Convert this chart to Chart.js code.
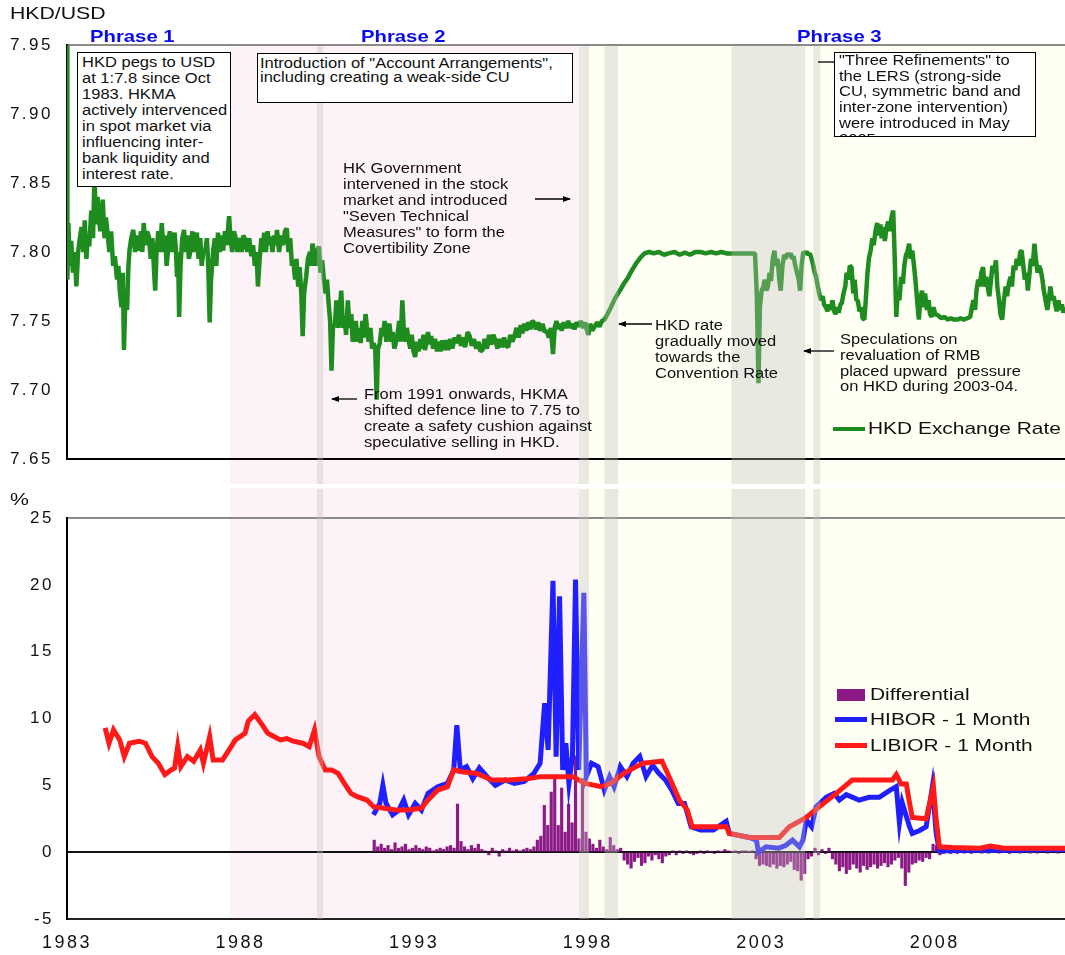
<!DOCTYPE html>
<html>
<head>
<meta charset="utf-8">
<script src="https://cdn.jsdelivr.net/npm/chart.js@4.4.1/dist/chart.umd.min.js"></script>
<style>
  html, body { margin: 0; padding: 0; background: #fff; overflow: hidden; }
  #wrap { position: relative; width: 1065px; height: 955px; }
  canvas { position: absolute; left: 0; }
  .t { position: absolute; font-family: "Liberation Sans", Arial, sans-serif; white-space: nowrap;
       transform-origin: 0 0; color: #111; }
  .note { font-size: 14px; line-height: 16px; transform: scaleX(1.18); }
  .big { font-size: 17px; line-height: 20px; transform: scaleX(1.23); }
  .phase { font-size: 16.5px; line-height: 20px; font-weight: bold; color: #0a0af0; transform: scaleX(1.23); }
  .box { position: absolute; background: #fff; border: 1px solid #000; overflow: hidden; box-sizing: border-box; }
  .box .t { position: static; display: inline-block; }
  .swatch { position: absolute; }
  svg { position: absolute; left: 0; top: 0; }
</style>
</head>
<body>
<div id="wrap">
  <canvas id="fx" width="1065" height="486" style="top:0"></canvas>
  <canvas id="ir" width="1065" height="469" style="top:486px"></canvas>

  <div class="t big" style="left:10px;top:4px;transform:scaleX(1.25)">HKD/USD</div>
  <div class="t big" style="left:10px;top:490px;transform:scaleX(1.25)">%</div>

  <div class="t phase" style="left:90px;top:26px">Phrase 1</div>
  <div class="t phase" style="left:361px;top:26px">Phrase 2</div>
  <div class="t phase" style="left:797px;top:26px">Phrase 3</div>

  <div class="box" style="left:77px;top:52px;width:154px;height:135px;padding:1px 0 0 4px">
    <div class="t note">HKD pegs to USD<br>at 1:7.8 since Oct<br>1983. HKMA<br>actively intervenced<br>in spot market via<br>influencing inter-<br>bank liquidity and<br>interest rate.</div>
  </div>
  <div class="box" style="left:257px;top:53px;width:316px;height:50px;padding:2px 0 0 2px">
    <div class="t note" style="line-height:14px">Introduction of "Account Arrangements",<br>including creating a weak-side CU</div>
  </div>
  <div class="box" style="left:834px;top:52px;width:202px;height:85px;padding:0 0 0 4px">
    <div class="t note" style="line-height:15.7px">"Three Refinements" to<br>the LERS (strong-side<br>CU, symmetric band and<br>inter-zone intervention)<br>were introduced in May<br>2005</div>
  </div>

  <div class="t note" style="left:343px;top:161px;line-height:15.9px">HK Government<br>intervened in the stock<br>market and introduced<br>"Seven Technical<br>Measures" to form the<br>Covertibility Zone</div>
  <div class="t note" style="left:364px;top:386px">From 1991 onwards, HKMA<br>shifted defence line to 7.75 to<br>create a safety cushion against<br>speculative selling in HKD.</div>
  <div class="t note" style="left:655px;top:317px">HKD rate<br>gradually moved<br>towards the<br>Convention Rate</div>
  <div class="t note" style="left:840px;top:332px;line-height:15.8px">Speculations on<br>revaluation of RMB<br>placed upward&nbsp; pressure<br>on HKD during 2003-04.</div>

  <svg width="1065" height="955">
    <defs>
      <marker id="ah" markerWidth="8" markerHeight="6" refX="7" refY="3" orient="auto" markerUnits="userSpaceOnUse">
        <path d="M0,0 L8,3 L0,6 z" fill="#000"/>
      </marker>
    </defs>
    <g stroke="#000" stroke-width="1.3">
      <line x1="535" y1="199" x2="570" y2="199" marker-end="url(#ah)"/>
      <line x1="357" y1="399" x2="332" y2="399" marker-end="url(#ah)"/>
      <line x1="652" y1="324" x2="619" y2="324" marker-end="url(#ah)"/>
      <line x1="834" y1="351" x2="804" y2="351" marker-end="url(#ah)"/>
      <line x1="818" y1="62" x2="834" y2="62"/>
    </g>
  </svg>

  <div class="swatch" style="left:833px;top:427px;width:32px;height:4px;background:#1e8c1e"></div>
  <div class="t big" style="left:868px;top:419px">HKD Exchange Rate</div>

  <div class="swatch" style="left:837px;top:689px;width:28px;height:12px;background:#8b1a86"></div>
  <div class="t big" style="left:870px;top:685px">Differential</div>
  <div class="swatch" style="left:835px;top:717px;width:32px;height:5px;background:#1f1fff"></div>
  <div class="t big" style="left:870px;top:710px">HIBOR - 1 Month</div>
  <div class="swatch" style="left:835px;top:743px;width:32px;height:5px;background:#ff1a1a"></div>
  <div class="t big" style="left:870px;top:736px">LIBIOR - 1 Month</div>
</div>

<script>
// HKD/USD exchange rate, rows of ten
const hkdYears = [
  1983.00, 1983.01, 1983.04, 1983.08, 1983.12, 1983.17, 1983.22, 1983.27, 1983.32, 1983.37,
  1983.42, 1983.47, 1983.51, 1983.56, 1983.60, 1983.64, 1983.70, 1983.75, 1983.79, 1983.84,
  1983.88, 1983.91, 1983.96, 1984.03, 1984.08, 1984.12, 1984.16, 1984.22, 1984.27, 1984.33,
  1984.38, 1984.44, 1984.48, 1984.52, 1984.57, 1984.61, 1984.64, 1984.68, 1984.73, 1984.77,
  1984.80, 1984.85, 1984.91, 1984.96, 1985.02, 1985.08, 1985.13, 1985.17, 1985.21, 1985.26,
  1985.31, 1985.36, 1985.41, 1985.46, 1985.50, 1985.54, 1985.58, 1985.63, 1985.68, 1985.73,
  1985.78, 1985.83, 1985.87, 1985.91, 1985.96, 1986.01, 1986.06, 1986.10, 1986.14, 1986.17,
  1986.20, 1986.23, 1986.27, 1986.32, 1986.37, 1986.42, 1986.47, 1986.51, 1986.56, 1986.61,
  1986.65, 1986.70, 1986.74, 1986.79, 1986.84, 1986.88, 1986.93, 1986.98, 1987.03, 1987.07,
  1987.11, 1987.15, 1987.21, 1987.26, 1987.30, 1987.35, 1987.40, 1987.45, 1987.50, 1987.55,
  1987.60, 1987.67, 1987.71, 1987.76, 1987.81, 1987.85, 1987.91, 1987.97, 1988.03, 1988.08,
  1988.13, 1988.19, 1988.25, 1988.31, 1988.36, 1988.41, 1988.46, 1988.50, 1988.55, 1988.60,
  1988.64, 1988.68, 1988.73, 1988.78, 1988.82, 1988.87, 1988.92, 1988.96, 1989.01, 1989.05,
  1989.11, 1989.17, 1989.22, 1989.28, 1989.33, 1989.38, 1989.43, 1989.48, 1989.52, 1989.57,
  1989.61, 1989.66, 1989.70, 1989.75, 1989.79, 1989.83, 1989.89, 1989.94, 1990.00, 1990.04,
  1990.07, 1990.12, 1990.17, 1990.21, 1990.26, 1990.30, 1990.35, 1990.40, 1990.45, 1990.49,
  1990.53, 1990.58, 1990.62, 1990.66, 1990.72, 1990.76, 1990.81, 1990.86, 1990.90, 1990.95,
  1990.99, 1991.04, 1991.09, 1991.14, 1991.19, 1991.23, 1991.27, 1991.32, 1991.37, 1991.41,
  1991.46, 1991.51, 1991.55, 1991.60, 1991.64, 1991.69, 1991.74, 1991.79, 1991.83, 1991.88,
  1991.92, 1991.96, 1992.01, 1992.06, 1992.10, 1992.15, 1992.20, 1992.25, 1992.29, 1992.34,
  1992.38, 1992.43, 1992.47, 1992.52, 1992.57, 1992.61, 1992.66, 1992.70, 1992.75, 1992.79,
  1992.84, 1992.89, 1992.93, 1992.98, 1993.03, 1993.08, 1993.13, 1993.18, 1993.22, 1993.27,
  1993.31, 1993.36, 1993.40, 1993.45, 1993.49, 1993.55, 1993.60, 1993.66, 1993.71, 1993.76,
  1993.81, 1993.86, 1993.92, 1993.98, 1994.04, 1994.10, 1994.17, 1994.23, 1994.29, 1994.35,
  1994.41, 1994.47, 1994.54, 1994.60, 1994.66, 1994.72, 1994.79, 1994.85, 1994.91, 1994.97,
  1995.03, 1995.10, 1995.16, 1995.22, 1995.28, 1995.34, 1995.40, 1995.46, 1995.53, 1995.59,
  1995.65, 1995.71, 1995.77, 1995.83, 1995.89, 1995.95, 1996.01, 1996.07, 1996.12, 1996.17,
  1996.23, 1996.29, 1996.35, 1996.40, 1996.45, 1996.51, 1996.57, 1996.63, 1996.70, 1996.76,
  1996.82, 1996.88, 1996.94, 1997.00, 1997.05, 1997.10, 1997.15, 1997.19, 1997.25, 1997.31,
  1997.37, 1997.44, 1997.50, 1997.56, 1997.62, 1997.68, 1997.74, 1997.80, 1997.87, 1997.93,
  1997.97, 1998.02, 1998.07, 1998.13, 1998.20, 1998.27, 1998.34, 1998.41, 1998.48, 1998.57,
  1998.67, 1998.78, 1998.90, 1999.04, 1999.15, 1999.28, 1999.40, 1999.52, 1999.64, 1999.77,
  1999.90, 2000.05, 2000.20, 2000.33, 2000.50, 2000.65, 2000.80, 2000.95, 2001.10, 2001.25,
  2001.40, 2001.55, 2001.70, 2001.85, 2002.00, 2002.18, 2002.35, 2002.50, 2002.65, 2002.82,
  2002.87, 2002.92, 2002.96, 2003.01, 2003.06, 2003.10, 2003.15, 2003.19, 2003.24, 2003.28,
  2003.33, 2003.38, 2003.42, 2003.47, 2003.52, 2003.56, 2003.61, 2003.66, 2003.70, 2003.75,
  2003.80, 2003.85, 2003.89, 2003.93, 2003.98, 2004.03, 2004.08, 2004.12, 2004.16, 2004.21,
  2004.26, 2004.31, 2004.36, 2004.40, 2004.45, 2004.50, 2004.54, 2004.58, 2004.63, 2004.67,
  2004.72, 2004.77, 2004.81, 2004.86, 2004.91, 2004.95, 2005.00, 2005.05, 2005.10, 2005.14,
  2005.19, 2005.23, 2005.28, 2005.32, 2005.37, 2005.42, 2005.46, 2005.51, 2005.55, 2005.60,
  2005.65, 2005.69, 2005.74, 2005.78, 2005.83, 2005.88, 2005.92, 2005.97, 2006.01, 2006.06,
  2006.10, 2006.15, 2006.20, 2006.24, 2006.29, 2006.34, 2006.38, 2006.43, 2006.47, 2006.52,
  2006.56, 2006.61, 2006.66, 2006.70, 2006.75, 2006.80, 2006.84, 2006.89, 2006.93, 2006.98,
  2007.03, 2007.08, 2007.12, 2007.17, 2007.21, 2007.26, 2007.30, 2007.35, 2007.40, 2007.44,
  2007.49, 2007.54, 2007.58, 2007.63, 2007.68, 2007.72, 2007.77, 2007.82, 2007.86, 2007.91,
  2007.96, 2008.01, 2008.10, 2008.19, 2008.28, 2008.37, 2008.46, 2008.55, 2008.65, 2008.74,
  2008.83, 2008.93, 2009.02, 2009.07, 2009.11, 2009.16, 2009.20, 2009.25, 2009.29, 2009.34,
  2009.39, 2009.43, 2009.48, 2009.52, 2009.57, 2009.62, 2009.66, 2009.71, 2009.76, 2009.80,
  2009.85, 2009.89, 2009.94, 2009.99, 2010.04, 2010.08, 2010.13, 2010.18, 2010.22, 2010.27,
  2010.32, 2010.36, 2010.41, 2010.46, 2010.50, 2010.55, 2010.59, 2010.64, 2010.68, 2010.73,
  2010.77, 2010.82, 2010.87, 2010.91, 2010.96, 2011.00, 2011.05, 2011.10, 2011.14, 2011.19,
  2011.24, 2011.28, 2011.33, 2011.38, 2011.42, 2011.47, 2011.51, 2011.56, 2011.61, 2011.66,
  2011.70, 2011.75];
const hkdRates = [
  7.95, 7.78, 7.821, 7.79, 7.808, 7.785, 7.80, 7.775, 7.80, 7.81,
  7.818, 7.80, 7.823, 7.795, 7.812, 7.804, 7.83, 7.81, 7.855, 7.82,
  7.84, 7.826, 7.815, 7.838, 7.81, 7.825, 7.816, 7.80, 7.815, 7.79,
  7.797, 7.78, 7.79, 7.772, 7.76, 7.785, 7.729, 7.765, 7.758, 7.79,
  7.801, 7.81, 7.816, 7.80, 7.812, 7.801, 7.815, 7.80, 7.821, 7.805,
  7.815, 7.811, 7.795, 7.81, 7.79, 7.772, 7.80, 7.815, 7.80, 7.821,
  7.80, 7.812, 7.79, 7.801, 7.815, 7.80, 7.81, 7.814, 7.80, 7.782,
  7.80, 7.753, 7.79, 7.81, 7.816, 7.80, 7.812, 7.795, 7.801, 7.815,
  7.80, 7.81, 7.814, 7.795, 7.81, 7.79, 7.801, 7.80, 7.81, 7.79,
  7.749, 7.78, 7.801, 7.81, 7.79, 7.814, 7.80, 7.812, 7.801, 7.815,
  7.805, 7.826, 7.81, 7.80, 7.815, 7.811, 7.80, 7.81, 7.80, 7.812,
  7.809, 7.80, 7.81, 7.797, 7.805, 7.79, 7.80, 7.775, 7.795, 7.81,
  7.80, 7.814, 7.80, 7.815, 7.805, 7.811, 7.80, 7.812, 7.805, 7.816,
  7.80, 7.812, 7.805, 7.815, 7.817, 7.80, 7.81, 7.79, 7.794, 7.78,
  7.795, 7.775, 7.789, 7.77, 7.739, 7.77, 7.782, 7.795, 7.80, 7.79,
  7.806, 7.80, 7.79, 7.80, 7.804, 7.785, 7.794, 7.78, 7.77, 7.78,
  7.765, 7.75, 7.714, 7.745, 7.748, 7.765, 7.745, 7.76, 7.772, 7.745,
  7.753, 7.74, 7.765, 7.745, 7.755, 7.735, 7.739, 7.75, 7.735, 7.745,
  7.734, 7.75, 7.738, 7.755, 7.746, 7.735, 7.745, 7.73, 7.734, 7.73,
  7.693, 7.73, 7.734, 7.745, 7.739, 7.75, 7.735, 7.745, 7.748, 7.735,
  7.742, 7.73, 7.734, 7.74, 7.75, 7.735, 7.765, 7.745, 7.735, 7.745,
  7.736, 7.73, 7.74, 7.728, 7.724, 7.735, 7.728, 7.737, 7.73, 7.74,
  7.729, 7.735, 7.742, 7.733, 7.739, 7.73, 7.737, 7.728, 7.735, 7.728,
  7.736, 7.729, 7.736, 7.729, 7.737, 7.73, 7.738, 7.734, 7.74, 7.732,
  7.738, 7.731, 7.742, 7.739, 7.732, 7.737, 7.73, 7.735, 7.728, 7.729,
  7.737, 7.73, 7.74, 7.733, 7.74, 7.736, 7.73, 7.737, 7.731, 7.738,
  7.732, 7.731, 7.74, 7.735, 7.739, 7.745, 7.738, 7.747, 7.741, 7.748,
  7.743, 7.749, 7.744, 7.75, 7.749, 7.744, 7.749, 7.743, 7.748, 7.742,
  7.743, 7.738, 7.745, 7.726, 7.745, 7.75, 7.744, 7.748, 7.743, 7.749,
  7.745, 7.75, 7.745, 7.748, 7.744, 7.749, 7.746, 7.75, 7.745, 7.749,
  7.744, 7.740, 7.748, 7.743, 7.746, 7.749, 7.746, 7.750, 7.751, 7.755,
  7.760, 7.766, 7.771, 7.777, 7.781, 7.787, 7.792, 7.796, 7.799, 7.800,
  7.799, 7.800, 7.798, 7.799, 7.800, 7.798, 7.7995, 7.798, 7.800, 7.800,
  7.799, 7.800, 7.799, 7.800, 7.799, 7.799, 7.799, 7.799, 7.799, 7.799,
  7.77, 7.705, 7.76, 7.772, 7.775, 7.78, 7.772, 7.775, 7.785, 7.779,
  7.795, 7.801, 7.79, 7.795, 7.78, 7.772, 7.79, 7.798, 7.795, 7.799,
  7.797, 7.799, 7.795, 7.797, 7.79, 7.785, 7.78, 7.772, 7.79, 7.800,
  7.799, 7.800, 7.798, 7.799, 7.795, 7.79, 7.785, 7.782, 7.775, 7.77,
  7.765, 7.768, 7.762, 7.760, 7.757, 7.762, 7.758, 7.765, 7.757, 7.755,
  7.76, 7.756, 7.762, 7.763, 7.77, 7.775, 7.785, 7.78, 7.79, 7.789,
  7.77, 7.78, 7.765, 7.765, 7.757, 7.76, 7.752, 7.751, 7.765, 7.785,
  7.795, 7.801, 7.81, 7.805, 7.815, 7.821, 7.812, 7.82, 7.81, 7.818,
  7.808, 7.818, 7.822, 7.815, 7.825, 7.830, 7.80, 7.753, 7.77, 7.765,
  7.782, 7.777, 7.79, 7.798, 7.80, 7.806, 7.795, 7.801, 7.79, 7.78,
  7.765, 7.751, 7.765, 7.772, 7.76, 7.770, 7.758, 7.765, 7.755, 7.753,
  7.76, 7.755, 7.754, 7.752, 7.753, 7.751, 7.752, 7.751, 7.751, 7.752,
  7.751, 7.752, 7.753, 7.76, 7.765, 7.758, 7.772, 7.78, 7.775, 7.785,
  7.789, 7.775, 7.782, 7.775, 7.768, 7.78, 7.79, 7.785, 7.794, 7.775,
  7.765, 7.755, 7.751, 7.765, 7.775, 7.768, 7.777, 7.782, 7.775, 7.79,
  7.787, 7.795, 7.79, 7.80, 7.801, 7.79, 7.78, 7.785, 7.772, 7.785,
  7.795, 7.79, 7.806, 7.795, 7.785, 7.79, 7.787, 7.78, 7.772, 7.765,
  7.758, 7.765, 7.775, 7.765, 7.768, 7.762, 7.757, 7.765, 7.758, 7.762,
  7.756, 7.760];

// 1-month LIBOR
const liborYears = [1984.10, 1984.21, 1984.34, 1984.52, 1984.65, 1984.80, 1985.08, 1985.26, 1985.45, 1985.63,
  1985.82, 1986.00, 1986.10, 1986.19, 1986.28, 1986.47, 1986.65, 1986.84, 1986.93, 1987.11,
  1987.21, 1987.48, 1987.67, 1987.85, 1988.13, 1988.22, 1988.41, 1988.59, 1988.78, 1988.96,
  1989.15, 1989.33, 1989.52, 1989.79, 1989.98, 1990.13, 1990.26, 1990.44, 1990.62, 1990.81,
  1990.99, 1991.18, 1991.36, 1991.64, 1991.83, 1992.10, 1992.47, 1992.84, 1993.21, 1993.40,
  1993.68, 1993.96, 1994.14, 1994.42, 1994.78, 1995.25, 1995.71, 1996.26, 1996.63, 1997.09,
  1997.56, 1997.93, 1998.39, 1998.67, 1999.04, 1999.40, 1999.59, 2000.14, 2000.30, 2000.64,
  2000.87, 2001.01, 2001.99, 2002.08, 2002.65, 2003.52, 2003.81, 2004.30, 2004.67, 2005.16,
  2005.62, 2006.78, 2006.89, 2007.03, 2007.18, 2007.27, 2007.35, 2007.75, 2007.96, 2008.04,
  2008.13, 2008.50, 2009.30, 2009.60, 2010.00, 2011.75];
const liborRates = [9.3, 8.15, 9.15, 8.4, 7.15, 8.15, 8.3, 8.15, 7.15, 6.65,
  5.8, 6.15, 6.3, 7.9, 6.4, 7.15, 6.8, 7.65, 6.65, 8.65,
  6.9, 6.9, 7.65, 8.4, 8.9, 9.8, 10.3, 9.65, 8.9, 8.65,
  8.4, 8.5, 8.3, 8.15, 7.9, 9.15, 7.15, 6.15, 6.15, 5.9,
  5.15, 4.4, 4.15, 3.9, 3.4, 3.3, 3.15, 3.15, 3.3, 3.9,
  4.65, 4.9, 6.15, 6.0, 5.9, 5.4, 5.4, 5.5, 5.65, 5.65,
  5.65, 5.15, 4.9, 5.15, 5.9, 6.4, 6.65, 6.8, 5.9, 3.9,
  3.15, 1.9, 1.9, 1.4, 1.1, 1.1, 1.9, 2.6, 3.4, 4.4,
  5.4, 5.4, 5.8, 5.1, 5.1, 3.7, 2.6, 2.5, 4.9, 2.4,
  0.4, 0.35, 0.3, 0.45, 0.3, 0.3];

// 1-month HIBOR
const hiborYears = [1991.83, 1992.01, 1992.10, 1992.19, 1992.38, 1992.56, 1992.70, 1992.84, 1993.03, 1993.21,
  1993.40, 1993.68, 1993.96, 1994.14, 1994.23, 1994.33, 1994.51, 1994.69, 1994.88, 1995.15,
  1995.34, 1995.62, 1995.89, 1996.17, 1996.45, 1996.63, 1996.76, 1996.86, 1997.00, 1997.09,
  1997.19, 1997.28, 1997.37, 1997.46, 1997.56, 1997.65, 1997.74, 1997.89, 1997.96, 1998.11,
  1998.30, 1998.48, 1998.63, 1998.76, 1998.94, 1999.13, 1999.31, 1999.50, 1999.68, 1999.87,
  2000.05, 2000.24, 2000.42, 2000.61, 2000.79, 2000.98, 2001.25, 2001.62, 2001.99, 2002.08,
  2002.65, 2002.86, 2002.92, 2003.14, 2003.50, 2003.70, 2003.90, 2004.10, 2004.20, 2004.30,
  2004.45, 2004.58, 2004.87, 2005.10, 2005.25, 2005.45, 2005.82, 2006.10, 2006.40, 2006.69,
  2006.89, 2006.98, 2007.06, 2007.27, 2007.35, 2007.55, 2007.75, 2007.93, 2008.04, 2008.13,
  2009.00, 2010.00, 2011.75];
const hiborRates = [2.8, 3.65, 5.0, 3.65, 2.8, 3.15, 3.9, 2.8, 3.65, 3.15,
  4.4, 4.9, 5.15, 6.15, 9.5, 6.15, 6.4, 5.5, 6.3, 5.5,
  5.0, 5.4, 5.15, 5.3, 5.9, 6.65, 11.15, 7.65, 20.3, 7.15,
  19.15, 6.15, 8.15, 5.15, 7.15, 20.4, 6.15, 19.4, 5.65, 6.65,
  6.4, 4.65, 5.65, 4.9, 6.4, 5.65, 6.65, 7.15, 5.65, 6.5,
  5.9, 5.4, 4.65, 3.65, 3.65, 1.9, 1.65, 1.65, 2.3, 1.4,
  1.1, 0.9, 0.0, 0.4, 0.3, 0.5, 0.9, 0.4, 0.9, 2.4,
  1.9, 3.4, 4.1, 4.4, 3.9, 4.3, 3.9, 4.1, 4.1, 4.6,
  4.9, 2.2, 3.7, 1.9, 1.4, 1.6, 1.9, 4.9, 1.4, 0.1,
  0.15, 0.15, 0.2];

// HIBOR - LIBOR differential, one reading every 0.1 year from 1991.85
const diffStart = 1991.85;
const diffValues = [
  0.9, 0.4, 0.6, 0.3, 0.5, 0.2, 0.7, 0.3, 0.4, 0.6,
  0.2, 0.3, 0.5, 0.3, 0.2, 0.4, 0.3, 0.1, 0.2, 0.3,
  0.2, 0.4, 0.5, 0.3, 3.6, 0.8, 0.4, 0.2, 0.5, 0.3,
  0.6, 0.2, 0.1, -0.2, 0.3, 0.1, -0.3, 0.2, 0.1, 0.3,
  0.1, 0.2, 0.1, 0.2, 0.3, 0.2, 0.4, 0.9, 1.2, 3.5,
  2.0, 4.5, 5.6, 2.0, 4.8, 1.5, 3.6, 2.2, 7.2, 1.0,
  5.5, 1.5, 1.0, 0.6, 0.3, 0.9, 0.4, 0.2, 1.1, 0.5,
  0.2, 0.3, -0.6, -0.9, -1.2, -0.7, -0.4, -1.0, -0.8, -0.3,
  -0.6, -0.2, -0.5, -0.8, -0.3, -0.2, 0.1, -0.2, 0.1, -0.1,
  0.1, -0.1, -0.2, -0.1, 0.1, -0.1, 0.1, 0.05, -0.1, 0.1,
  0.05, 0.2, 0.1, 0.05, 0.1, -0.1, 0.1, 0.1, 0.05, 0.1,
  -0.5, -1.0, -0.9, -1.0, -1.1, -0.9, -1.2, -1.0, -1.1, -0.9,
  -0.7, -1.3, -1.4, -2.1, -1.6, -0.5, -0.3, 0.3, -0.2, 0.2,
  -0.1, 0.3, -0.5, -0.9, -1.4, -1.1, -1.6, -1.3, -0.9, -1.2,
  -1.5, -1.0, -1.3, -1.1, -0.9, -1.2, -1.0, -0.8, -1.1, -0.9,
  -0.6, -0.4, -1.2, -2.5, -1.5, -0.9, -0.8, -0.6, -0.7, -0.4,
  -0.5, 0.6, 0.5, -0.2, -0.1, 0.1, -0.1, 0.05, -0.1, 0.05,
  -0.05, 0.05, -0.1, 0.05, 0.1, -0.05, 0.05, -0.05, 0.05, 0.1,
  -0.05, 0.05, 0.05, -0.1, 0.05, 0.1, -0.05, 0.05, 0.05, -0.05,
  0.05, -0.05, 0.1, 0.05, -0.05, 0.05, 0.1, -0.05, 0.05, 0.05];

const yearTicks = [1983, 1988, 1993, 1998, 2003, 2008];
const fxTicks = [7.65, 7.70, 7.75, 7.80, 7.85, 7.90, 7.95];
const rateTicks = [-5, 0, 5, 10, 15, 20, 25];

// policy phases and event periods (shaded)
const phaseSpans = [[1987.7, 1997.75, '#fdf2f8'], [1997.75, 2011.75, '#fffff4']];
const eventSpans = [[1990.2, 1990.38], [1997.75, 1998.04], [1998.48, 1998.88], [2002.14, 2004.27], [2004.5, 2004.7]];

const X_MIN = 1983, X_MAX = 2011.75;
const FONT = '"Liberation Sans", Arial, sans-serif';

function pairs(xs, ys) {
  return xs.map((x, i) => ({ x: x, y: ys[i] }));
}

function shading(bandTop, bandBottom) {
  return {
    id: 'shading',
    beforeDraw(chart) {
      const { ctx, chartArea, scales: { x } } = chart;
      const top = bandTop(chartArea), bottom = bandBottom(chartArea);
      ctx.save();
      for (const [a, b, c] of phaseSpans) {
        const l = x.getPixelForValue(a), r = Math.min(x.getPixelForValue(b), chart.width);
        ctx.fillStyle = c;
        ctx.fillRect(l, top, r - l, bottom - top);
      }
      ctx.restore();
      ctx.letterSpacing = '2.5px';
    },
    afterDatasetsDraw(chart) {
      const { ctx, chartArea, scales: { x } } = chart;
      const top = bandTop(chartArea) + 1, bottom = bandBottom(chartArea);
      ctx.save();
      ctx.fillStyle = 'rgba(195,193,190,0.35)';
      for (const [a, b] of eventSpans) {
        const l = x.getPixelForValue(a), r = x.getPixelForValue(b);
        ctx.fillRect(l, top, r - l, bottom - top);
      }
      ctx.restore();
    }
  };
}

function edgeColor(edges) {
  return function(c) {
    const v = c.tick ? c.tick.value : null;
    for (const [val, col] of edges) {
      if (v !== null && Math.abs(v - val) < 1e-6) return col;
    }
    return 'rgba(0,0,0,0)';
  };
}

/* HKD exchange rate */
new Chart(document.getElementById('fx'), {
  type: 'line',
  data: {
    datasets: [{
      label: 'HKD Exchange Rate',
      data: pairs(hkdYears, hkdRates),
      borderColor: '#1e8c1e',
      borderWidth: 4.5,
      pointRadius: 0,
      tension: 0,
      borderJoinStyle: 'bevel'
    }]
  },
  options: {
    responsive: false,
    animation: false,
    events: [],
    layout: { padding: { top: 45, left: 0, right: 0, bottom: 0 } },
    plugins: { legend: { display: false }, tooltip: { enabled: false } },
    scales: {
      x: {
        type: 'linear', min: X_MIN, max: X_MAX, offset: false,
        ticks: { display: false },
        grid: { display: false, drawTicks: false },
        border: { color: '#000', width: 2 },
        afterFit: s => { s.height = 27; }
      },
      y: {
        min: 7.65, max: 7.95,
        afterBuildTicks: s => { s.ticks = fxTicks.map(v => ({ value: v })); },
        ticks: { color: '#111', font: { family: FONT, size: 17 }, padding: 14, callback: v => v.toFixed(2) },
        grid: { drawTicks: false, lineWidth: 2, color: edgeColor([[7.95, '#8a8a8a']]) },
        border: { color: '#000', width: 2 },
        afterFit: s => { s.width = 67; }
      }
    }
  },
  plugins: [shading(a => a.top, a => a.bottom + 25)]
});

/* Interest rates */
new Chart(document.getElementById('ir'), {
  type: 'bar',
  data: {
    datasets: [{
      type: 'bar',
      label: 'Differential',
      data: diffValues.map((v, i) => ({ x: diffStart + i * 0.1, y: v })),
      backgroundColor: '#8b1a86',
      barThickness: 2.5,
      grouped: false,
      order: 2
    }, {
      type: 'line',
      label: 'HIBOR - 1 Month',
      data: pairs(hiborYears, hiborRates),
      borderColor: '#1f1fff',
      borderWidth: 5,
      pointRadius: 0,
      tension: 0,
      order: 1
    }, {
      type: 'line',
      label: 'LIBIOR - 1 Month',
      data: pairs(liborYears, liborRates),
      borderColor: '#ff1a1a',
      borderWidth: 5,
      pointRadius: 0,
      tension: 0,
      order: 0
    }]
  },
  options: {
    responsive: false,
    animation: false,
    events: [],
    layout: { padding: { top: 32, left: 0, right: 0, bottom: 0 } },
    plugins: { legend: { display: false }, tooltip: { enabled: false } },
    scales: {
      x: {
        type: 'linear', min: X_MIN, max: X_MAX, offset: false,
        afterBuildTicks: s => { s.ticks = yearTicks.map(v => ({ value: v })); },
        ticks: { color: '#111', font: { family: FONT, size: 18 }, padding: 13, maxRotation: 0, callback: v => String(v) },
        grid: { display: false, drawTicks: false, offset: false },
        border: { color: '#222', width: 2 },
        afterFit: s => { s.height = 36; }
      },
      y: {
        min: -5, max: 25,
        afterBuildTicks: s => { s.ticks = rateTicks.map(v => ({ value: v })); },
        ticks: { color: '#111', font: { family: FONT, size: 17 }, padding: 13 },
        grid: { drawTicks: false, lineWidth: 2, color: edgeColor([[25, '#8a8a8a'], [0, '#111']]) },
        border: { color: '#000', width: 2 },
        afterFit: s => { s.width = 67; }
      }
    }
  },
  plugins: [shading(a => 2, a => a.bottom)]
});
</script>
</body>
</html>
